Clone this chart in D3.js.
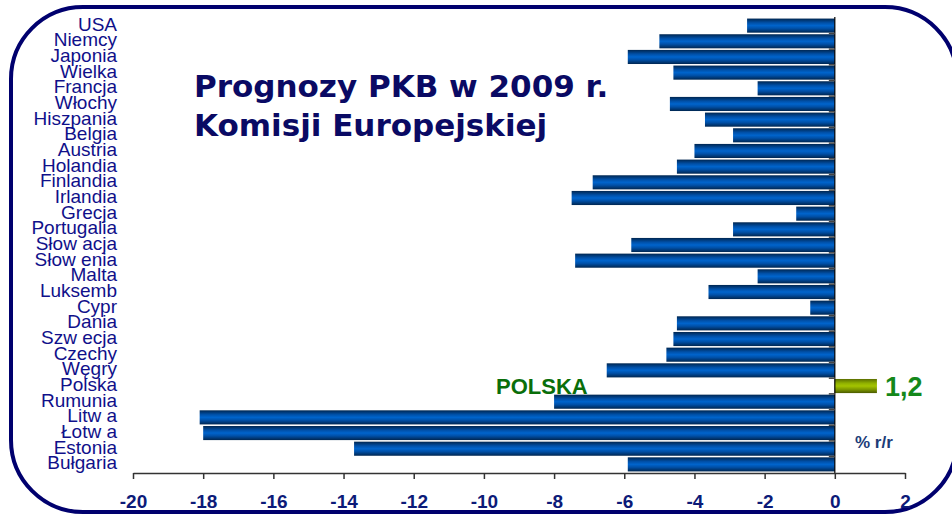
<!DOCTYPE html>
<html>
<head>
<meta charset="utf-8">
<script src="https://cdn.jsdelivr.net/npm/d3@7"></script>
<style>
  html, body { margin: 0; padding: 0; background: #fff; }
  svg { display: block; }
  text { font-family: "Liberation Sans", Arial, sans-serif; }
  .title { font-family: "DejaVu Sans", Verdana, sans-serif; }
</style>
</head>
<body>
<div id="chart"></div>
<script>
var countries = ["USA", "Niemcy", "Japonia", "Wielka", "Francja", "Włochy", "Hiszpania", "Belgia",
  "Austria", "Holandia", "Finlandia", "Irlandia", "Grecja", "Portugalia", "Słow acja", "Słow enia",
  "Malta", "Luksemb", "Cypr", "Dania", "Szw ecja", "Czechy", "Węgry", "Polska", "Rumunia",
  "Litw a", "Łotw a", "Estonia", "Bułgaria"];
var gdp = [-2.5, -5.0, -5.9, -4.6, -2.2, -4.7, -3.7, -2.9, -4.0, -4.5, -6.9, -7.5, -1.1, -2.9,
  -5.8, -7.4, -2.2, -3.6, -0.7, -4.5, -4.6, -4.8, -6.5, 1.2, -8.0, -18.1, -18.0, -13.7, -5.9];
var xTicks = [-20, -18, -16, -14, -12, -10, -8, -6, -4, -2, 0, 2];
var titleLines = ["Prognozy PKB w 2009 r.", "Komisji Europejskiej"];
var highlight = "Polska";

var width = 952, height = 514;

var svg = d3.select("#chart").append("svg")
    .attr("width", width)
    .attr("height", height);

var defs = svg.append("defs");

function barGradient(id, stops) {
  var grad = defs.append("linearGradient")
      .attr("id", id)
      .attr("x1", 0).attr("y1", 0)
      .attr("x2", 0).attr("y2", 1);
  stops.forEach(function(s) {
    grad.append("stop").attr("offset", s[0]).attr("stop-color", s[1]);
  });
}
barGradient("blueBar", [[0, "#002650"], [0.3, "#0050a8"], [0.5, "#0064cc"], [0.7, "#0050a8"], [1, "#002650"]]);
barGradient("greenBar", [[0, "#5a6e00"], [0.3, "#90b000"], [0.5, "#a4c400"], [0.75, "#7c9600"], [1, "#4a5a00"]]);

// rounded frame, partly cut off at the right edge
svg.append("rect")
    .attr("x", 11)
    .attr("y", 7)
    .attr("width", 946)
    .attr("height", 505)
    .attr("rx", 72)
    .attr("ry", 72)
    .attr("fill", "none")
    .attr("stroke", "#00006e")
    .attr("stroke-width", 4);

var x = d3.scaleLinear().domain([-20, 2]).range([133, 905]);
var y = d3.scaleBand().domain(countries).range([17, 473]).padding(0.1);

// bars
svg.selectAll(".bar")
  .data(countries)
  .enter().append("rect")
    .attr("class", "bar")
    .attr("x", function(d, i) { return x(Math.min(0, gdp[i])); })
    .attr("y", function(d) { return y(d); })
    .attr("width", function(d, i) { return Math.abs(x(gdp[i]) - x(0)); })
    .attr("height", y.bandwidth())
    .attr("fill", function(d) { return d == highlight ? "url(#greenBar)" : "url(#blueBar)"; });

// vertical axis at zero
var yAxis = svg.append("g")
    .attr("transform", "translate(" + x(0) + ",0)");
yAxis.append("line")
    .attr("x1", 0).attr("x2", 0)
    .attr("y1", 17).attr("y2", 473)
    .attr("stroke", "#000")
    .attr("stroke-width", 1.2);
yAxis.selectAll(".ytick")
  .data(countries.slice(1))
  .enter().append("line")
    .attr("class", "ytick")
    .attr("x1", -6).attr("x2", 0)
    .attr("y1", function(d) { return y(d) - y.step() * y.paddingInner() / 2; })
    .attr("y2", function(d) { return y(d) - y.step() * y.paddingInner() / 2; })
    .attr("stroke", "#444")
    .attr("stroke-width", 1.5);

// horizontal axis
var xAxis = svg.append("g")
    .attr("transform", "translate(0,473)")
    .call(d3.axisBottom(x).tickValues(xTicks).tickSize(6).tickPadding(16).tickSizeOuter(0));
xAxis.select(".domain").attr("stroke", "#333").attr("stroke-width", 1.5);
xAxis.selectAll(".tick line").attr("stroke", "#333").attr("stroke-width", 1.5);
xAxis.selectAll(".tick text")
    .attr("fill", "#0c1a78")
    .style("font-family", "Arial, 'Liberation Sans', sans-serif")
    .attr("font-weight", "bold")
    .attr("font-size", 19)
    .text(function(d) { return d; });

// category labels
svg.selectAll(".label")
  .data(countries)
  .enter().append("text")
    .attr("class", "label")
    .attr("x", 117)
    .attr("y", function(d) { return y(d) + y.bandwidth() / 2 + 5; })
    .attr("text-anchor", "end")
    .attr("font-size", 19)
    .attr("fill", "#10108a")
    .text(function(d) { return d; });

// title
svg.selectAll(".title")
  .data(titleLines)
  .enter().append("text")
    .attr("class", "title")
    .attr("x", 194)
    .attr("y", function(d, i) { return 97 + i * 39; })
    .attr("font-weight", "bold")
    .attr("font-size", 31)
    .attr("fill", "#0a0a64")
    .text(function(d) { return d; });

// Polska annotations
var pIdx = countries.indexOf(highlight);
svg.append("text")
    .attr("x", 496)
    .attr("y", y(highlight) + y.bandwidth() / 2 + 8)
    .attr("font-weight", "bold")
    .attr("font-size", 22)
    .attr("fill", "#0a6e0a")
    .text("POLSKA");
svg.append("text")
    .attr("x", x(gdp[pIdx]) + 8)
    .attr("y", y(highlight) + y.bandwidth() / 2 + 10)
    .attr("font-weight", "bold")
    .attr("font-size", 27)
    .attr("fill", "#14881a")
    .text(String(gdp[pIdx]).replace(".", ","));
svg.append("text")
    .attr("x", 855)
    .attr("y", 448)
    .attr("font-weight", "bold")
    .attr("font-size", 17)
    .attr("fill", "#1c3c78")
    .text("% r/r");
</script>
</body>
</html>
